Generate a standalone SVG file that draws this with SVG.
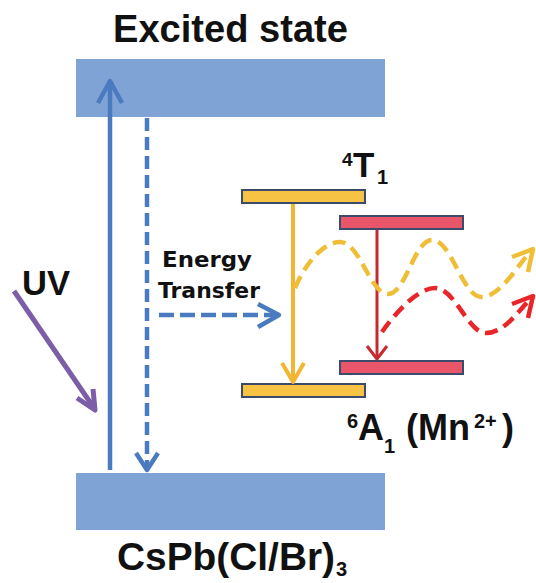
<svg xmlns="http://www.w3.org/2000/svg" width="536" height="583" viewBox="0 0 536 583">
<defs>
<style>
.lbl{font-family:"Liberation Sans",Arial,sans-serif;font-weight:bold;fill:#111}
.et{font-family:"DejaVu Sans",Verdana,sans-serif;font-weight:bold;fill:#111}
.band{fill:#80A3D6}
.lvl{stroke:#3C4A6B;stroke-width:2}
.ylv{fill:#F6C344}
.rlv{fill:#E9566A}
.c{fill:none;stroke-linecap:butt;stroke-linejoin:round}
.blue{stroke:#4A7BC0}
.dash{stroke-dasharray:13 6}
</style>
</defs>
<rect width="536" height="583" fill="#fff"/>
<g id="excited-state">
<rect class="band" x="76" y="59" width="309" height="58"/>
<text class="lbl" x="113" y="42" font-size="38" textLength="235" lengthAdjust="spacingAndGlyphs">Excited state</text>
</g>
<g id="ground-state">
<rect class="band" x="76" y="473" width="309" height="57"/>
<text class="lbl" x="117" y="570" font-size="38" textLength="218" lengthAdjust="spacingAndGlyphs">CsPb(Cl/Br)</text>
<text class="lbl" x="336" y="576" font-size="20">3</text>
</g>
<g id="T1-yellow">
<rect class="lvl ylv" x="242" y="190" width="123" height="13"/>
</g>
<g id="T1-red">
<rect class="lvl rlv" x="340" y="216" width="123" height="13"/>
</g>
<g id="A1-red">
<rect class="lvl rlv" x="340" y="361" width="123" height="13"/>
</g>
<g id="A1-yellow">
<rect class="lvl ylv" x="242" y="384" width="123" height="13"/>
</g>
<g id="label-4T1">
<text class="lbl" x="342" y="166" font-size="19">4</text>
<text class="lbl" x="353" y="177" font-size="35">T</text>
<text class="lbl" x="377" y="184" font-size="20">1</text>
</g>
<g id="label-6A1">
<text class="lbl" x="347" y="428" font-size="20">6</text>
<text class="lbl" x="358" y="440" font-size="36">A</text>
<text class="lbl" x="384" y="453" font-size="20">1</text>
<text class="lbl" x="406" y="440" font-size="36">(Mn</text>
<text class="lbl" x="474" y="428" font-size="20">2+</text>
<text class="lbl" x="502" y="440" font-size="36">)</text>
</g>
<g id="label-uv">
<text class="lbl" x="22" y="295" font-size="35" textLength="48" lengthAdjust="spacingAndGlyphs">UV</text>
</g>
<g id="label-energy-transfer">
<text class="et" x="162" y="267" font-size="22" textLength="90" lengthAdjust="spacingAndGlyphs">Energy</text>
<text class="et" x="158" y="298" font-size="22" textLength="102" lengthAdjust="spacingAndGlyphs">Transfer</text>
</g>
<g id="connectors">
<line class="c blue" x1="110" y1="470" x2="110" y2="83" stroke-width="4.5"/>
<polyline class="c blue" points="98,103 110,81 122,103" stroke-width="4.5"/>
<line class="c blue dash" x1="147" y1="118" x2="147" y2="466" stroke-width="4.5"/>
<polyline class="c blue" points="136,453 147,470 158,453" stroke-width="4.5"/>
<line class="c blue" x1="159" y1="315" x2="277" y2="315" stroke-width="4.5" stroke-dasharray="15 6"/>
<polyline class="c blue" points="258,304 279,315 258,327" stroke-width="4.5"/>
<line class="c" x1="14" y1="291" x2="94" y2="408" stroke="#7B5EA7" stroke-width="5"/>
<polyline class="c" points="77,398 95,410 93,389" stroke="#7B5EA7" stroke-width="5"/>
<line class="c" x1="293" y1="204" x2="293" y2="381" stroke="#F2B631" stroke-width="4"/>
<polyline class="c" points="282,363 293,382 304,363" stroke="#F2B631" stroke-width="4"/>
<line class="c" x1="377" y1="230" x2="377" y2="358" stroke="#C62A2F" stroke-width="3"/>
<polyline class="c" points="367,346 377,359 387,346" stroke="#C62A2F" stroke-width="3"/>
<path class="c" d="M295,288 C306,262 324,242 340,242 C360,242 370,294 388,294 C406,294 414,240 432,240 C452,240 462,297 482,297 C500,297 518,265 531,251" stroke="#F0BE36" stroke-width="4.5" stroke-dasharray="13 7"/>
<polyline class="c" points="512,257 533,249 528,272" stroke="#F0BE36" stroke-width="4.5"/>
<path class="c" d="M382,332 C396,312 418,288 435,288 C455,288 468,333 486,333 C504,333 518,312 531,298" stroke="#E8262A" stroke-width="4.5" stroke-dasharray="13 7"/>
<polyline class="c" points="512,304 533,296 528,318" stroke="#E8262A" stroke-width="4.5"/>
</g>
</svg>
